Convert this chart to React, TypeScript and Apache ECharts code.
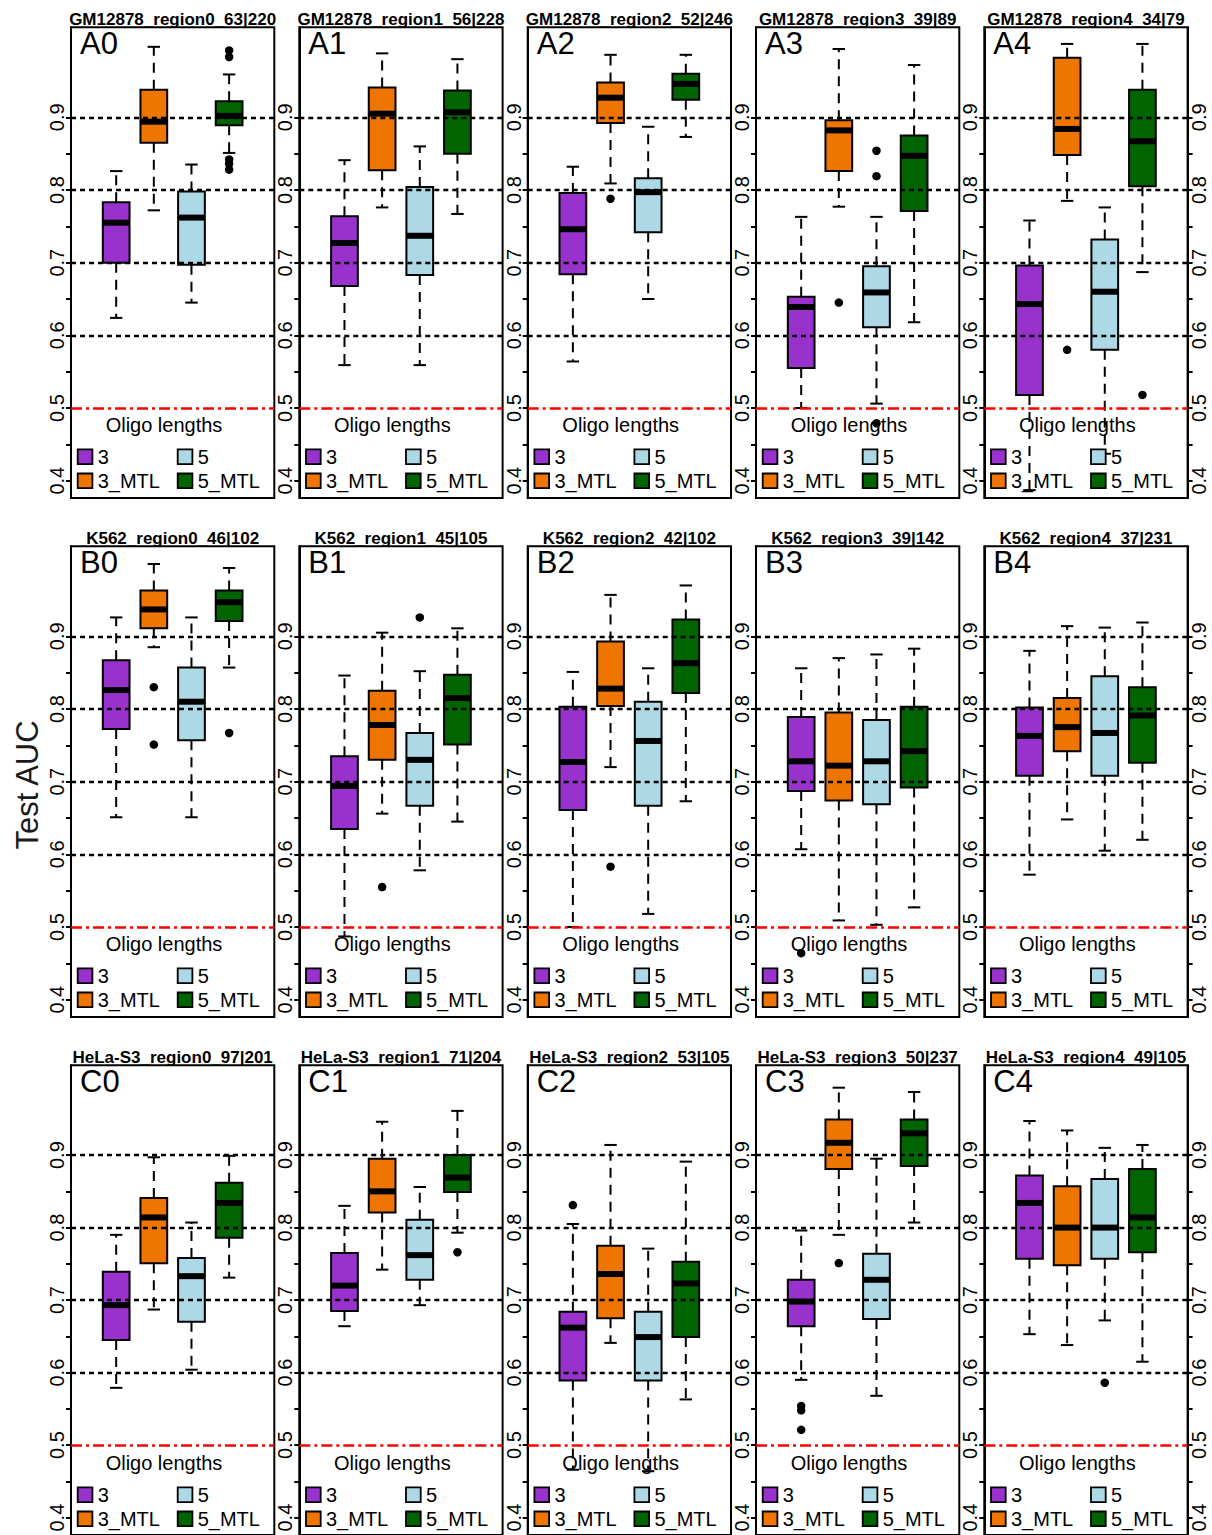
import React, { useEffect, useRef } from 'react';
import * as echarts from 'echarts';

// ---------- data ----------
const groups = ['3', '3_MTL', '5', '5_MTL'];
const groupColors = ['#9932CC', '#EE7600', '#ADD8E6', '#006400'];
const yLabelValues = [0.4, 0.5, 0.6, 0.7, 0.8, 0.9];
const yTickValues = [0.4, 0.45, 0.5, 0.55, 0.6, 0.65, 0.7, 0.75, 0.8, 0.85, 0.9];
const dottedRefs = [0.6, 0.7, 0.8, 0.9];
const chanceRef = 0.5;
const legendTitle = 'Oligo lengths';
const yAxisTitle = 'Test AUC';

const panelLetters = ['A0', 'A1', 'A2', 'A3', 'A4', 'B0', 'B1', 'B2', 'B3', 'B4', 'C0', 'C1', 'C2', 'C3', 'C4'];
const panelTitles = [
  'GM12878_region0_63|220', 'GM12878_region1_56|228', 'GM12878_region2_52|246', 'GM12878_region3_39|89', 'GM12878_region4_34|79',
  'K562_region0_46|102', 'K562_region1_45|105', 'K562_region2_42|102', 'K562_region3_39|142', 'K562_region4_37|231',
  'HeLa-S3_region0_97|201', 'HeLa-S3_region1_71|204', 'HeLa-S3_region2_53|105', 'HeLa-S3_region3_50|237', 'HeLa-S3_region4_49|105',
];

// [lower whisker, Q1, median, Q3, upper whisker] for groups 3, 3_MTL, 5, 5_MTL
const boxA0 = [[0.624, 0.700, 0.755, 0.783, 0.826], [0.772, 0.865, 0.894, 0.938, 0.997], [0.645, 0.697, 0.762, 0.798, 0.835], [0.851, 0.889, 0.902, 0.922, 0.959]];
const boxA1 = [[0.559, 0.668, 0.727, 0.764, 0.841], [0.776, 0.827, 0.905, 0.941, 0.988], [0.559, 0.683, 0.737, 0.804, 0.860], [0.767, 0.850, 0.907, 0.937, 0.980]];
const boxA2 = [[0.564, 0.684, 0.746, 0.796, 0.832], [0.809, 0.892, 0.927, 0.948, 0.986], [0.650, 0.742, 0.797, 0.816, 0.887], [0.873, 0.924, 0.946, 0.960, 0.986]];
const boxA3 = [[0.500, 0.555, 0.639, 0.653, 0.763], [0.777, 0.826, 0.882, 0.896, 0.994], [0.506, 0.611, 0.659, 0.695, 0.763], [0.618, 0.771, 0.847, 0.875, 0.972]];
const boxA4 = [[0.387, 0.518, 0.643, 0.696, 0.758], [0.785, 0.848, 0.884, 0.982, 1.001], [0.437, 0.580, 0.660, 0.732, 0.776], [0.687, 0.805, 0.867, 0.938, 1.001]];
const boxB0 = [[0.651, 0.7725, 0.826, 0.867, 0.926], [0.885, 0.911, 0.937, 0.963, 0.9995], [0.651, 0.757, 0.810, 0.857, 0.926], [0.857, 0.921, 0.947, 0.963, 0.994]];
const boxB1 = [[0.487, 0.635, 0.694, 0.735, 0.846], [0.656, 0.730, 0.778, 0.825, 0.905], [0.578, 0.667, 0.730, 0.767, 0.852], [0.645, 0.751, 0.815, 0.847, 0.911]];
const boxB2 = [[0.500, 0.661, 0.727, 0.803, 0.851], [0.720, 0.804, 0.828, 0.893, 0.957], [0.518, 0.667, 0.756, 0.810, 0.856], [0.673, 0.822, 0.863, 0.923, 0.970]];
const boxB3 = [[0.607, 0.687, 0.728, 0.789, 0.856], [0.509, 0.674, 0.722, 0.795, 0.870], [0.503, 0.669, 0.728, 0.785, 0.875], [0.527, 0.692, 0.742, 0.803, 0.883]];
const boxB4 = [[0.572, 0.708, 0.763, 0.802, 0.880], [0.648, 0.742, 0.775, 0.815, 0.914], [0.605, 0.708, 0.767, 0.845, 0.912], [0.620, 0.726, 0.791, 0.830, 0.919]];
const boxC0 = [[0.579, 0.645, 0.693, 0.739, 0.790], [0.687, 0.751, 0.814, 0.841, 0.897], [0.604, 0.670, 0.733, 0.758, 0.807], [0.731, 0.786, 0.834, 0.862, 0.899]];
const boxC1 = [[0.664, 0.685, 0.720, 0.765, 0.830], [0.742, 0.821, 0.850, 0.895, 0.946], [0.693, 0.728, 0.762, 0.811, 0.856], [0.793, 0.849, 0.869, 0.900, 0.961]];
const boxC2 = [[0.466, 0.589, 0.662, 0.684, 0.805], [0.641, 0.675, 0.736, 0.775, 0.914], [0.464, 0.589, 0.649, 0.684, 0.771], [0.563, 0.649, 0.723, 0.753, 0.891]];
const boxC3 = [[0.590, 0.664, 0.698, 0.728, 0.796], [0.790, 0.881, 0.917, 0.949, 0.993], [0.568, 0.674, 0.728, 0.764, 0.895], [0.807, 0.885, 0.930, 0.949, 0.987]];
const boxC4 = [[0.653, 0.757, 0.834, 0.872, 0.947], [0.638, 0.748, 0.800, 0.857, 0.934], [0.672, 0.757, 0.800, 0.867, 0.910], [0.615, 0.766, 0.814, 0.881, 0.914]];

// outliers: [group index, value]
const outA0 = [[3, 0.992], [3, 0.983], [3, 0.842], [3, 0.836], [3, 0.828]];
const outA1: number[][] = [];
const outA2 = [[1, 0.788]];
const outA3 = [[1, 0.645], [2, 0.854], [2, 0.819], [2, 0.479]];
const outA4 = [[1, 0.580], [3, 0.518]];
const outB0 = [[1, 0.830], [1, 0.751], [3, 0.767]];
const outB1 = [[1, 0.555], [2, 0.926]];
const outB2 = [[1, 0.583]];
const outB3 = [[0, 0.464]];
const outB4: number[][] = [];
const outC0: number[][] = [];
const outC1 = [[3, 0.766]];
const outC2 = [[0, 0.831]];
const outC3 = [[0, 0.554], [0, 0.548], [0, 0.521], [1, 0.751]];
const outC4 = [[2, 0.586]];

const panelBoxes = [boxA0, boxA1, boxA2, boxA3, boxA4, boxB0, boxB1, boxB2, boxB3, boxB4, boxC0, boxC1, boxC2, boxC3, boxC4];
const panelOutliers = [outA0, outA1, outA2, outA3, outA4, outB0, outB1, outB2, outB3, outB4, outC0, outC1, outC2, outC3, outC4];

// ---------- layout ----------
const W = 1212;
const H = 1535;
const colLefts = [71, 299.3, 527.7, 756, 984.3];
const rowTops = [27.2, 546.2, 1065.2];
const gridW = 203.3;
const gridH = 470.9;
const FONT = '"Liberation Sans", Arial, Helvetica, sans-serif';

const renderBox = (params: any, api: any) => {
  const x = api.value(0);
  const g = api.value(6);
  const pLo = api.coord([x, api.value(1)]);
  const pQ1 = api.coord([x, api.value(2)]);
  const pMed = api.coord([x, api.value(3)]);
  const pQ3 = api.coord([x, api.value(4)]);
  const pHi = api.coord([x, api.value(5)]);
  const bw = api.size([0.71, 0])[0];
  const sw = api.size([0.33, 0])[0];
  const cx = pMed[0];
  const whisk = { stroke: '#000', lineWidth: 2, lineDash: [10, 7], fill: null };
  const solid = { stroke: '#000', lineWidth: 2, fill: null };
  return {
    type: 'group',
    children: [
      { type: 'line', shape: { x1: cx, y1: pQ3[1], x2: cx, y2: pHi[1] }, style: whisk },
      { type: 'line', shape: { x1: cx, y1: pQ1[1], x2: cx, y2: pLo[1] }, style: whisk },
      { type: 'line', shape: { x1: cx - sw / 2, y1: pHi[1], x2: cx + sw / 2, y2: pHi[1] }, style: solid },
      { type: 'line', shape: { x1: cx - sw / 2, y1: pLo[1], x2: cx + sw / 2, y2: pLo[1] }, style: solid },
      {
        type: 'rect',
        shape: { x: cx - bw / 2, y: pQ3[1], width: bw, height: pQ1[1] - pQ3[1] },
        style: { fill: groupColors[g], stroke: '#000', lineWidth: 2 },
      },
      { type: 'line', shape: { x1: cx - bw / 2, y1: pMed[1], x2: cx + bw / 2, y2: pMed[1] }, style: { stroke: '#000', lineWidth: 6 } },
    ],
  };
};

function buildOption() {
  const grid: any[] = [];
  const xAxis: any[] = [];
  const yAxis: any[] = [];
  const series: any[] = [];
  const elements: any[] = [];

  const yAxisBase = (i: number, pos: string) => ({
    type: 'value',
    gridIndex: i,
    min: 0.376,
    max: 1.024,
    position: pos,
    axisLine: { show: true, onZero: false, lineStyle: { color: '#000', width: 2 } },
    axisTick: { show: true, length: 5, inside: false, customValues: yTickValues, lineStyle: { color: '#000', width: 2 } },
    axisLabel: {
      show: true,
      customValues: yLabelValues,
      rotate: 90,
      margin: pos === 'left' ? 4 : 1,
      fontSize: 20,
      fontFamily: FONT,
      color: '#000',
      formatter: (v: number) => v.toFixed(1),
    },
    splitLine: { show: false },
  });

  panelLetters.forEach((letter, i) => {
    const r = Math.floor(i / 5);
    const c = i % 5;
    const left = colLefts[c];
    const top = rowTops[r];
    grid.push({ left, top, width: gridW, height: gridH, show: true, borderColor: '#000', borderWidth: 2, containLabel: false });
    xAxis.push({ type: 'value', gridIndex: i, min: -0.2, max: 5.2, show: false });
    yAxis.push(yAxisBase(i, 'left'));

    series.push({
      type: 'line',
      xAxisIndex: i,
      yAxisIndex: i,
      data: [],
      z: 1,
      silent: true,
      markLine: {
        silent: true,
        symbol: ['none', 'none'],
        label: { show: false },
        animation: false,
        data: [
          ...dottedRefs.map((v) => ({ yAxis: v, lineStyle: { color: '#000', width: 2.4, type: [5, 4] } })),
          { yAxis: chanceRef, lineStyle: { color: '#FF0000', width: 2.5, type: [11, 4, 3, 4] } },
        ],
      },
    });
    series.push({
      type: 'custom',
      xAxisIndex: i,
      yAxisIndex: i,
      z: 3,
      clip: false,
      renderItem: renderBox,
      encode: { x: 0, y: [1, 2, 3, 4, 5] },
      data: panelBoxes[i].map((s, g) => [g + 1, ...s, g]),
    });
    series.push({
      type: 'scatter',
      xAxisIndex: i,
      yAxisIndex: i,
      z: 4,
      symbol: 'circle',
      symbolSize: 8.5,
      itemStyle: { color: '#000', opacity: 1 },
      data: panelOutliers[i].map(([g, v]) => [g + 1, v]),
    });

    // panel title
    elements.push({
      type: 'text', x: left + gridW / 2, y: top - 8, z: 10,
      style: { text: panelTitles[i], fontSize: 17, fontWeight: 'bold', fontFamily: FONT, fill: '#000', align: 'center', verticalAlign: 'middle' },
    });
    // panel letter
    elements.push({
      type: 'text', x: left + 9, y: top + 16.5, z: 10,
      style: { text: letter, fontSize: 31, fontFamily: FONT, fill: '#000', align: 'left', verticalAlign: 'middle' },
    });
    // legend
    elements.push({
      type: 'text', x: left + 93, y: top + 398, z: 10,
      style: { text: legendTitle, fontSize: 20, fontFamily: FONT, fill: '#000', align: 'center', verticalAlign: 'middle' },
    });
    groups.forEach((gname, k) => {
      const col = Math.floor(k / 2);
      const row = k % 2;
      const cy = top + (row === 0 ? 429.5 : 453.6);
      elements.push({
        type: 'rect', x: left + 6.7 + col * 100, y: cy - 7.3, z: 10,
        shape: { x: 0, y: 0, width: 14.7, height: 14.7 },
        style: { fill: groupColors[k], stroke: '#000', lineWidth: 1.8 },
      });
      elements.push({
        type: 'text', x: left + 26.7 + col * 100, y: cy, z: 10,
        style: { text: gname, fontSize: 20, fontFamily: FONT, fill: '#000', align: 'left', verticalAlign: 'middle' },
      });
    });
  });

  // right axes on the last column
  [4, 9, 14].forEach((i) => {
    yAxis.push(yAxisBase(i, 'right'));
  });

  elements.push({
    type: 'text', x: 27, y: 785, rotation: Math.PI / 2, z: 10,
    style: { text: yAxisTitle, fontSize: 31, fontFamily: FONT, fill: '#1a1a1a', align: 'center', verticalAlign: 'middle' },
  });

  return {
    animation: false,
    backgroundColor: '#fff',
    grid,
    xAxis,
    yAxis,
    series,
    graphic: { elements },
  };
}

export default function App() {
  const ref = useRef<HTMLDivElement>(null);
  useEffect(() => {
    if (!ref.current) return;
    const chart = echarts.init(ref.current, undefined, { renderer: 'svg' });
    chart.setOption(buildOption() as any);
    return () => chart.dispose();
  }, []);
  return <div ref={ref} style={{ position: 'absolute', left: 0, top: 0, width: W, height: H }} />;
}
